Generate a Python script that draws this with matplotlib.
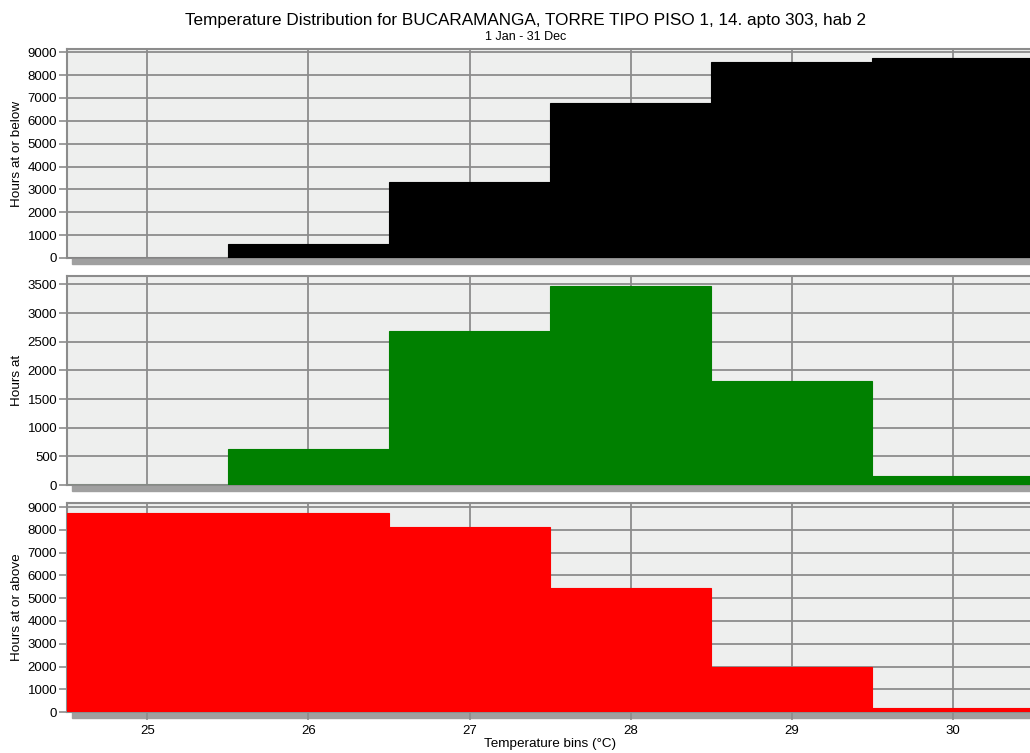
import matplotlib
matplotlib.use("Agg")
import matplotlib.pyplot as plt
from matplotlib.patches import Rectangle

plt.rcParams['font.family'] = ['Liberation Sans', 'DejaVu Sans']

# temperature bins (degC) and hours
bins = [25, 26, 27, 28, 29, 30]
hours_below = [0, 630, 3320, 6790, 8590, 8760]
hours_at = [0, 630, 2680, 3480, 1810, 160]
hours_above = [8760, 8760, 8130, 5450, 1970, 160]

title = "Temperature Distribution for BUCARAMANGA, TORRE TIPO PISO 1, 14. apto 303, hab 2"
subtitle = "1 Jan - 31 Dec"

panels = [
    (hours_below, "black", "Hours at or below", range(0, 9001, 1000), 9140, 0.6574),
    (hours_at, "#008000", "Hours at", range(0, 3501, 500), 3645, 0.3559),
    (hours_above, "#ff0000", "Hours at or above", range(0, 9001, 1000), 9180, 0.0544),
]

grid_c = "#8c8c8c"
fig = plt.figure(figsize=(10.30, 7.53), dpi=100)

axes = []
for vals, col, lab, yt, ytop, bottom in panels:
    ax = fig.add_axes([0.065, bottom, 0.938, 0.2775])
    ax.set_facecolor("#eeefee")
    ax.bar(bins, vals, width=1.0, color=col, edgecolor=col, linewidth=0.8, zorder=3)
    ax.set_xlim(24.5, 30.5)
    ax.set_ylim(0, ytop)
    ax.set_yticks(list(yt))
    ax.set_xticks(bins)
    ax.grid(True, color=grid_c, linewidth=1.3, zorder=1)
    ax.set_axisbelow(True)
    for s in ax.spines.values():
        s.set_color(grid_c)
        s.set_linewidth(1.5)
    ax.tick_params(axis="y", length=6, color=grid_c, width=1.2, labelsize=9.5, pad=1)
    ax.tick_params(axis="x", length=6, color=grid_c, width=1.2, labelsize=9.5, pad=3)
    ax.set_ylabel(lab, fontsize=9.7)
    ax.yaxis.set_label_coords(-0.046, 0.5)
    # grey shadow strip under the axis
    ax.add_patch(Rectangle((0.005, -0.029), 1.0, 0.029, transform=ax.transAxes,
                           clip_on=False, color="#a0a0a0", zorder=0))
    axes.append(ax)

for ax in axes[:2]:
    ax.tick_params(axis="x", length=0, labelbottom=False)

axes[2].set_xlabel("Temperature bins (°C)", fontsize=9.7, labelpad=1)

fig.text(0.51, 0.973, title, ha="center", va="center", fontsize=12.3)
fig.text(0.51, 0.951, subtitle, ha="center", va="center", fontsize=9)

fig.savefig("out.png", dpi=100)
